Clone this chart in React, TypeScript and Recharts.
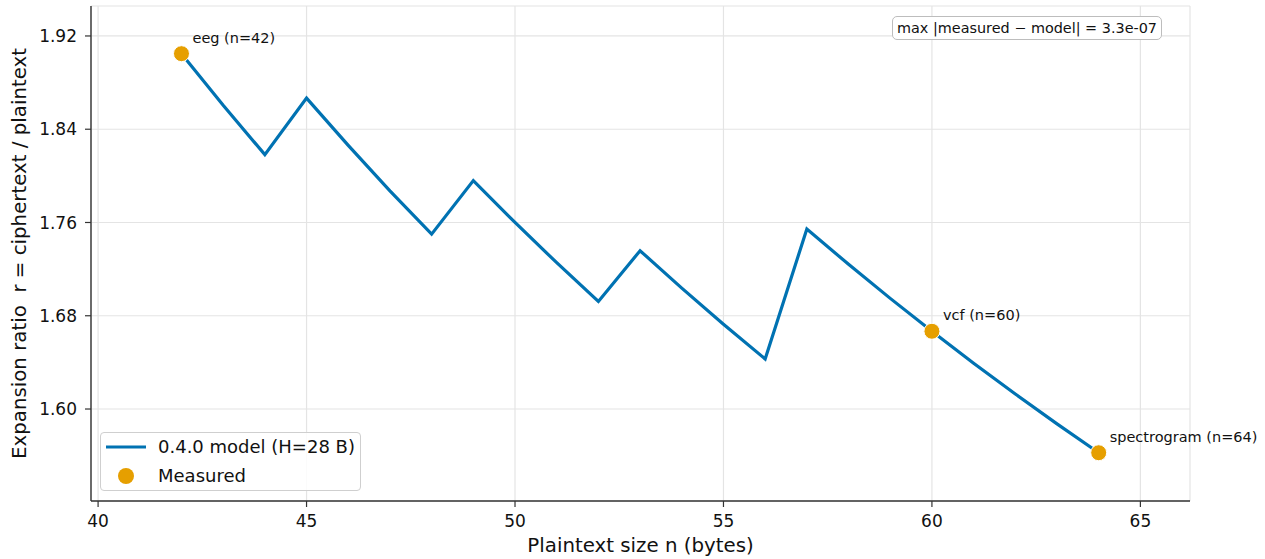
import { ComposedChart, Line, Scatter, XAxis, YAxis, CartesianGrid, Legend } from "recharts"

// model curve: r = ciphertext / plaintext for each plaintext size
const sizes = [42, 43, 44, 45, 46, 47, 48, 49, 50, 51, 52, 53, 54, 55, 56, 57, 58, 59, 60, 61, 62, 63, 64]
const modelRatio = [
    1.9048, 1.8605, 1.8182, 1.8667, 1.8261, 1.7872, 1.75, 1.7959, 1.76, 1.7255, 1.6923, 1.7358,
    1.7037, 1.6727, 1.6429, 1.7544, 1.7241, 1.6949, 1.6667, 1.6393, 1.6129, 1.5873, 1.5625,
]

const measuredNames = ["eeg", "vcf", "spectrogram"]
const measuredSizes = [42, 60, 64]
const measuredRatio = [1.9048, 1.6667, 1.5625]

const xTicks = [40, 45, 50, 55, 60, 65]
const yTicks = [1.6, 1.68, 1.76, 1.84, 1.92]

const BLUE = "#0072B2"
const ORANGE = "#E69F00"
const FONT = "'DejaVu Sans', sans-serif"

const modelData = sizes.map((n, i) => ({ n, r: modelRatio[i] }))
const measuredData = measuredSizes.map((n, i) => ({ n, r: measuredRatio[i], name: measuredNames[i] }))

function MeasuredDot(props: any) {
    const { cx, cy, payload } = props
    return (
        <g>
            <circle cx={cx} cy={cy} r={8} fill={ORANGE} stroke="#fff" strokeWidth={1} />
            <text x={cx + 11} y={cy - 11} fontSize={14.5} fill="#111" fontFamily={FONT}>
                {`${payload.name} (n=${payload.n})`}
            </text>
        </g>
    )
}

function LegendBox({ payload }: any) {
    const items = payload ?? []
    return (
        <div style={{
            width: 261, height: 59, boxSizing: "border-box", position: "relative",
            border: "1px solid #cfcfcf", borderRadius: 4, background: "rgba(255,255,255,0.85)",
            fontFamily: FONT, fontSize: 18, color: "#111",
        }}>
            {items.map((e: any, i: number) => (
                <div key={i} style={{ position: "absolute", left: 0, top: 1 + i * 29, height: 26, width: 259 }}>
                    <svg width={50} height={26} style={{ position: "absolute", left: 0, top: 0 }}>
                        {e.type === "line"
                            ? <line x1={5} x2={45} y1={13} y2={13} stroke={BLUE} strokeWidth={3} />
                            : <circle cx={25} cy={13} r={8} fill={ORANGE} />}
                    </svg>
                    <span style={{ position: "absolute", left: 57, top: 0, lineHeight: "26px", whiteSpace: "nowrap" }}>
                        {e.value}
                    </span>
                </div>
            ))}
        </div>
    )
}

export default function App() {
    return (
        <div style={{ position: "absolute", left: 0, top: 0, width: 1265, height: 559, background: "#fff", fontFamily: FONT }}>
            <ComposedChart width={1265} height={559} margin={{ top: 6, right: 75, bottom: 0, left: 0 }}>
                <CartesianGrid stroke="#e4e4e4" strokeWidth={1.2} />
                <XAxis
                    type="number" dataKey="n" domain={[39.83, 66.19]} ticks={xTicks}
                    height={58} tickSize={6} tickMargin={8}
                    axisLine={{ stroke: "#333", strokeWidth: 1.4 }} tickLine={{ stroke: "#333", strokeWidth: 1.2 }}
                    tick={{ fontSize: 17, fill: "#111", fontFamily: FONT }}
                    label={{
                        content: ({ viewBox }: any) => (
                            <text x={viewBox.x + viewBox.width / 2} y={viewBox.y + 51} textAnchor="middle"
                                fontSize={19.8} fill="#111" fontFamily={FONT}>
                                Plaintext size n (bytes)
                            </text>
                        ),
                    }}
                />
                <YAxis
                    type="number" domain={[1.5211, 1.9457]} ticks={yTicks}
                    width={91} tickSize={6} tickMargin={8}
                    tickFormatter={(v: number) => v.toFixed(2)}
                    axisLine={{ stroke: "#333", strokeWidth: 1.4 }} tickLine={{ stroke: "#333", strokeWidth: 1.2 }}
                    tick={{ fontSize: 17, fill: "#111", fontFamily: FONT }}
                    label={{
                        content: ({ viewBox }: any) => {
                            const cy = viewBox.y + viewBox.height / 2
                            return (
                                <text x={26} y={cy} transform={`rotate(-90, 26, ${cy})`} textAnchor="middle"
                                    fontSize={19.8} fill="#111" fontFamily={FONT} style={{ whiteSpace: "pre" }}>
                                    {"Expansion ratio  r = ciphertext / plaintext"}
                                </text>
                            )
                        },
                    }}
                />
                <Line
                    data={modelData} dataKey="r" name="0.4.0 model (H=28 B)" type="linear"
                    stroke={BLUE} strokeWidth={3.2} dot={false} activeDot={false} legendType="line"
                    isAnimationActive={false}
                />
                <Scatter
                    data={measuredData} dataKey="r" name="Measured" fill={ORANGE} legendType="circle"
                    shape={MeasuredDot} isAnimationActive={false}
                />
                <Legend
                    layout="vertical" align="center" verticalAlign="middle"
                    content={LegendBox}
                    wrapperStyle={{ left: 100, top: 432, width: 261, height: 59 }}
                />
            </ComposedChart>
            <div style={{
                position: "absolute", left: 892, top: 16, width: 270, height: 24, boxSizing: "border-box",
                border: "1px solid #bdbdbd", borderRadius: 5, background: "#fff",
                fontSize: 14.4, lineHeight: "22px", paddingLeft: 4, color: "#111", whiteSpace: "nowrap",
            }}>
                max |measured − model| = 3.3e-07
            </div>
        </div>
    )
}
